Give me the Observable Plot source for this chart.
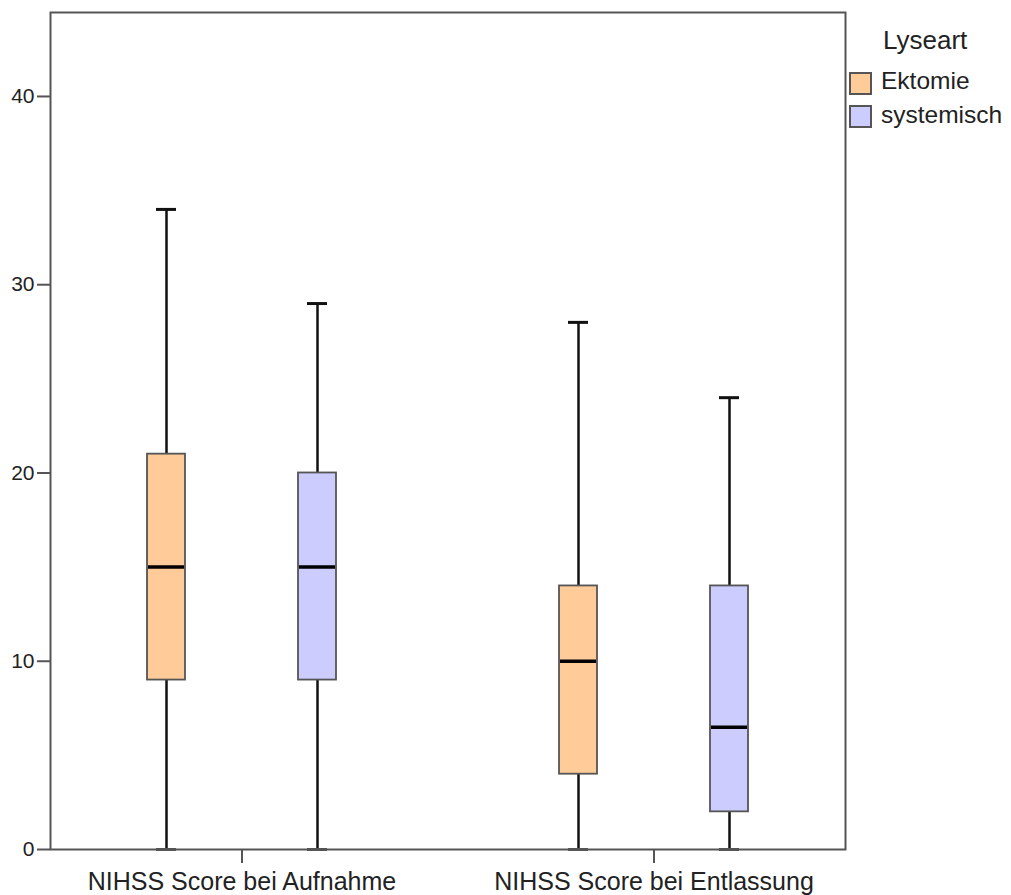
<!DOCTYPE html>
<html>
<head>
<meta charset="utf-8">
<script src="https://cdn.jsdelivr.net/npm/d3@7"></script>
<script src="https://cdn.jsdelivr.net/npm/@observablehq/plot@0.6"></script>
<style>
  html, body { margin: 0; padding: 0; background: #fff; }
  #wrap { position: relative; width: 1011px; height: 895px; font-family: "Liberation Sans", Arial, sans-serif; color: #222; }
  .lg { position: absolute; white-space: nowrap; }
  .sw { position: absolute; width: 23px; height: 23px; box-sizing: border-box; border: 2px solid #555; }
</style>
</head>
<body>
<div id="wrap"></div>
<script>
// ---- data ----
const groups = ["NIHSS Score bei Aufnahme", "NIHSS Score bei Entlassung"];
const types = ["Ektomie", "systemisch"];
const colors = ["#ffcc99", "#ccccff"];
const boxGroup = ["NIHSS Score bei Aufnahme", "NIHSS Score bei Aufnahme", "NIHSS Score bei Entlassung", "NIHSS Score bei Entlassung"];
const boxType = ["Ektomie", "systemisch", "Ektomie", "systemisch"];
const whiskerLow = [0, 0, 0, 0];
const q1 = [9, 9, 4, 2];
const median = [15, 15, 10, 6.5];
const q3 = [21, 20, 14, 14];
const whiskerHigh = [34, 29, 28, 24];
const yTicks = [0, 10, 20, 30, 40];
const legendTitle = "Lyseart";

const data = boxGroup.map((g, i) => ({
  group: g, type: boxType[i], lo: whiskerLow[i], q1: q1[i], med: median[i], q3: q3[i], hi: whiskerHigh[i]
}));

const font = '"Liberation Sans", Arial, sans-serif';

const chart = Plot.plot({
  width: 1011,
  height: 895,
  marginLeft: 50,
  marginTop: 12,
  marginRight: 166,
  marginBottom: 46,
  style: { fontFamily: font, color: "#222", background: "#fff" },
  fx: { domain: groups, paddingInner: 0.0704, paddingOuter: 0, axis: null },
  x: { domain: types, paddingInner: 0.75, paddingOuter: 0.6349, axis: null },
  y: { domain: [0, 44.46], axis: null },
  color: { domain: types, range: colors },
  marks: [
    Plot.ruleX(data, { fx: "group", x: "type", y1: "lo", y2: "hi", stroke: "#111", strokeWidth: 2.5 }),
    Plot.tickY(data, { fx: "group", x: "type", y: "hi", stroke: "#111", strokeWidth: 3, insetLeft: 9, insetRight: 9 }),
    Plot.tickY(data, { fx: "group", x: "type", y: "lo", stroke: "#555", strokeWidth: 3, insetLeft: 9, insetRight: 9 }),
    Plot.barY(data, { fx: "group", x: "type", y1: "q1", y2: "q3", fill: "type", stroke: "#555", strokeWidth: 1.8 }),
    Plot.tickY(data, { fx: "group", x: "type", y: "med", stroke: "#000", strokeWidth: 3.5, insetLeft: 1, insetRight: 1 }),
    Plot.frame({ facet: "super", stroke: "#555", strokeWidth: 2 }),
    Plot.axisY(yTicks, { tickSize: 13, tickPadding: 3, fontSize: 21, stroke: "#555", strokeWidth: 2, label: null, fill: "#222" }),
    Plot.axisFx({ anchor: "bottom", tickSize: 14, tickPadding: 9, fontSize: 25, stroke: "#555", strokeWidth: 2, label: null, fill: "#222" })
  ]
});

const wrap = document.getElementById("wrap");
wrap.appendChild(chart);

function addText(txt, left, top, size) {
  const d = document.createElement("div");
  d.className = "lg";
  d.style.left = left + "px";
  d.style.top = top + "px";
  d.style.fontSize = size + "px";
  d.style.lineHeight = size + "px";
  d.textContent = txt;
  wrap.appendChild(d);
}
addText(legendTitle, 883, 27, 26);
types.forEach((t, i) => {
  const s = document.createElement("div");
  s.className = "sw";
  s.style.left = "849px";
  s.style.top = (72 + i * 33) + "px";
  s.style.background = colors[i];
  wrap.appendChild(s);
  addText(t, 881, 69 + i * 34, 24.5);
});
</script>
</body>
</html>
